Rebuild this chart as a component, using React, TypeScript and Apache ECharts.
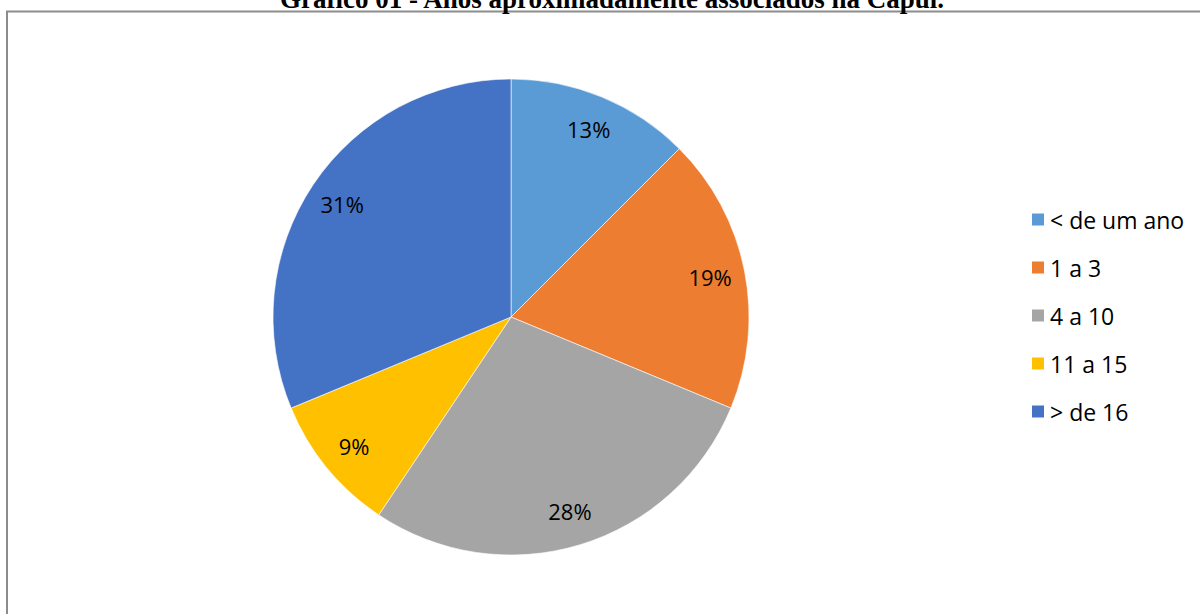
import React, { useEffect, useRef } from "react";
import * as echarts from "echarts";

const categories = ["< de um ano", "1 a 3", "4 a 10", "11 a 15", "> de 16"];
// respondent counts (slice angles match 12.5%, 18.75%, 28.1%, 9.4%, 31.25%)
const counts = [4, 6, 9, 3, 10];
const colors = ["#5B9BD5", "#ED7D31", "#A5A5A5", "#FFC000", "#4472C4"];
const titleText = "Gráfico 01 - Anos aproximadamente associados na Capul.";

export default function App() {
  const ref = useRef<HTMLDivElement>(null);
  useEffect(() => {
    if (!ref.current) return;
    const chart = echarts.init(ref.current, undefined, { renderer: "svg" });
    const data = categories.map((name, i) => ({ name, value: counts[i], itemStyle: { color: colors[i] } }));
    chart.setOption({
      animation: false,
      backgroundColor: "#ffffff",
      graphic: [
        {
          type: "rect",
          shape: { x: 7, y: 11.5, width: 1300, height: 700 },
          style: { fill: "none", stroke: "#8c8c8c", lineWidth: 2 },
          silent: true,
        },
        {
          type: "text",
          x: 612,
          y: 12,
          style: {
            text: titleText,
            font: "bold 27px 'Liberation Serif', 'Times New Roman', serif",
            fill: "#000000",
            textAlign: "center",
            textVerticalAlign: "bottom",
          },
          silent: true,
        },
      ],
      legend: {
        orient: "vertical",
        left: 1025,
        top: 203,
        itemWidth: 14,
        itemHeight: 14,
        itemGap: 25,
        icon: "rect",
        textStyle: { fontFamily: "Open Sans", fontSize: 23, lineHeight: 23, color: "#000000" },
        data: categories,
      },
      series: [
        {
          type: "pie",
          center: [511, 317],
          radius: [0, 238],
          startAngle: 90,
          clockwise: true,
          data,
          label: { show: false },
          labelLine: { show: false },
          itemStyle: { borderColor: "#ffffff", borderWidth: 0.6 },
          emphasis: { disabled: true },
        },
        {
          type: "pie",
          center: [511, 317],
          radius: [162, 238],
          startAngle: 90,
          clockwise: true,
          silent: true,
          data: categories.map((name, i) => ({ name, value: counts[i] })),
          itemStyle: { color: "rgba(0,0,0,0)" },
          label: {
            show: true,
            position: "inside",
            formatter: (p: any) => Math.round(p.percent) + "%",
            fontFamily: "Open Sans",
            fontSize: 22,
            color: "#000000",
          },
          labelLine: { show: false },
          legendHoverLink: false,
          emphasis: { disabled: true },
          tooltip: { show: false },
        },
      ],
    });
    return () => chart.dispose();
  }, []);
  return <div ref={ref} style={{ position: "absolute", left: 0, top: 0, width: 1200, height: 614 }} />;
}
